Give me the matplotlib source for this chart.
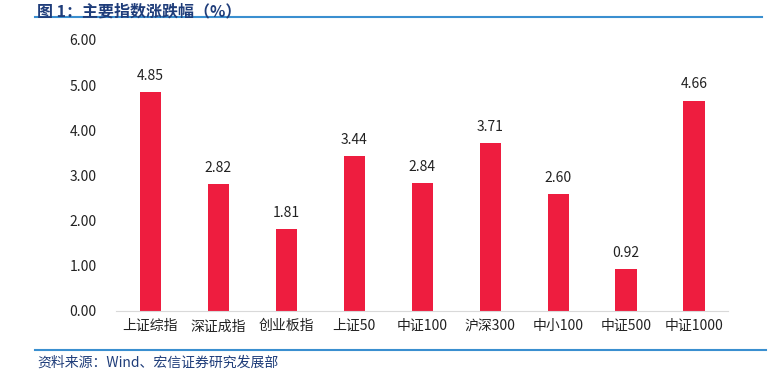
import matplotlib.pyplot as plt

plt.rcParams['font.family'] = ['Noto Sans CJK SC', 'DejaVu Sans']

categories = ['上证综指', '深证成指', '创业板指', '上证50', '中证100', '沪深300', '中小100', '中证500', '中证1000']
values = [4.85, 2.82, 1.81, 3.44, 2.84, 3.71, 2.60, 0.92, 4.66]

fig = plt.figure(figsize=(7.74, 3.72), dpi=100)
ax = fig.add_axes([0.15, 0.164, 0.7906, 0.7285])

x = range(len(categories))
bars = ax.bar(x, values, width=0.31, color='#EE1D3F')
for b, v in zip(bars, values):
    ax.text(b.get_x() + b.get_width() / 2, v + 0.2, f'{v:.2f}',
            ha='center', va='bottom', fontsize=10, color='#222222')

ax.set_xlim(-0.5, len(categories) - 0.5)
ax.set_ylim(0, 6)
ax.set_yticks([0, 1, 2, 3, 4, 5, 6])
ax.set_yticklabels([f'{t:.2f}' for t in range(7)])
ax.set_xticks(list(x))
ax.set_xticklabels(categories)
ax.tick_params(axis='both', length=0, labelsize=10, colors='#222222')
ax.tick_params(axis='y', pad=14)
ax.tick_params(axis='x', pad=6)
for s in ['top', 'right', 'left']:
    ax.spines[s].set_visible(False)
ax.spines['bottom'].set_color('#D9D9D9')

# title and source with blue rules
fig.text(0.048, 0.99, '图 1：主要指数涨跌幅（%）', fontsize=11.5, fontweight='bold',
         color='#1F3D7A', va='top', ha='left')
fig.add_artist(plt.Line2D([0.045, 0.985], [0.953, 0.953], color='#3A8FD0', lw=1.5))
fig.add_artist(plt.Line2D([0.045, 0.99], [0.058, 0.058], color='#3A8FD0', lw=1.5))
fig.text(0.048, 0.025, '资料来源：Wind、宏信证券研究发展部', fontsize=10,
         color='#1F3D7A', va='center', ha='left')

fig.savefig('out.png', dpi=100)
